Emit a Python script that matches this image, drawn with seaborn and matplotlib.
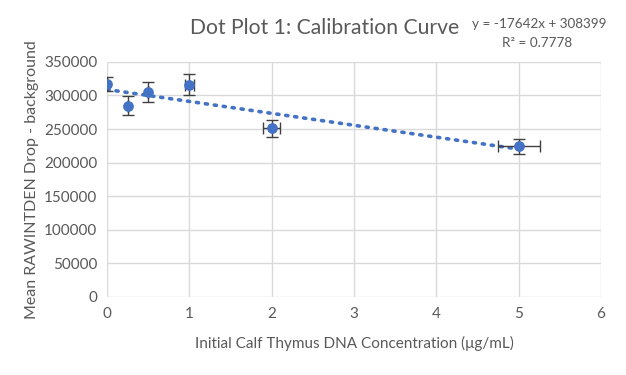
import numpy as np
import pandas as pd
import matplotlib
matplotlib.use("Agg")
import matplotlib.pyplot as plt
import seaborn as sns

# values
conc = [0, 0.25, 0.5, 1, 2, 5]
mean_rawintden = [317000, 284500, 305000, 315700, 251000, 224700]
y_err = [10500, 14000, 15400, 15600, 12200, 11200]
x_err = [0, 0, 0, 0.057, 0.1, 0.255]
equation = "y = -17642x + 308399"
r_squared = "R² = 0.7778"

blue = "#4472C4"
text_gray = "#595959"

df = pd.DataFrame({"conc": conc, "rawintden": mean_rawintden})

sns.set_theme(style="whitegrid")
plt.rcParams["font.family"] = ["Lato", "DejaVu Sans"]

fig = plt.figure(figsize=(6.26, 3.75), dpi=100)
ax = fig.add_axes([0.171, 0.208, 0.789, 0.627])

# linear trendline, dotted
sns.regplot(data=df, x="conc", y="rawintden", ax=ax, scatter=False, ci=None,
            color=blue, line_kws={"linestyle": (0, (0.6, 1.9)), "linewidth": 2.6,
                                  "dash_capstyle": "round", "zorder": 2})

ax.errorbar(conc, mean_rawintden, yerr=y_err, xerr=x_err, fmt="none",
            ecolor="#404040", elinewidth=1, capsize=4, capthick=1, zorder=3)
sns.scatterplot(data=df, x="conc", y="rawintden", ax=ax, color=blue, s=60,
                edgecolor=blue, linewidth=0, zorder=4)

ax.set_xlim(0, 6)
ax.set_ylim(0, 350000)
ax.set_xticks(range(0, 7))
ax.set_yticks(np.arange(0, 350001, 50000))
ax.grid(True, color="#d9d9d9", linewidth=1)
for s in ax.spines.values():
    s.set_visible(False)
ax.tick_params(axis="both", colors=text_gray, labelsize=11, length=0, pad=7)

ax.set_xlabel("Initial Calf Thymus DNA Concentration (μg/mL)", color=text_gray,
              fontsize=11, labelpad=11)
ax.set_ylabel("Mean RAWINTDEN Drop - background", color=text_gray,
              fontsize=11.5, labelpad=4)

fig.text(0.519, 0.925, "Dot Plot 1: Calibration Curve", ha="center", va="center",
         fontsize=15.2, color=text_gray)
fig.text(0.861, 0.935, equation, ha="center", va="center", fontsize=9.7, color=text_gray)
fig.text(0.858, 0.885, r_squared, ha="center", va="center", fontsize=9.7, color=text_gray)

fig.savefig("out.png", dpi=100)
